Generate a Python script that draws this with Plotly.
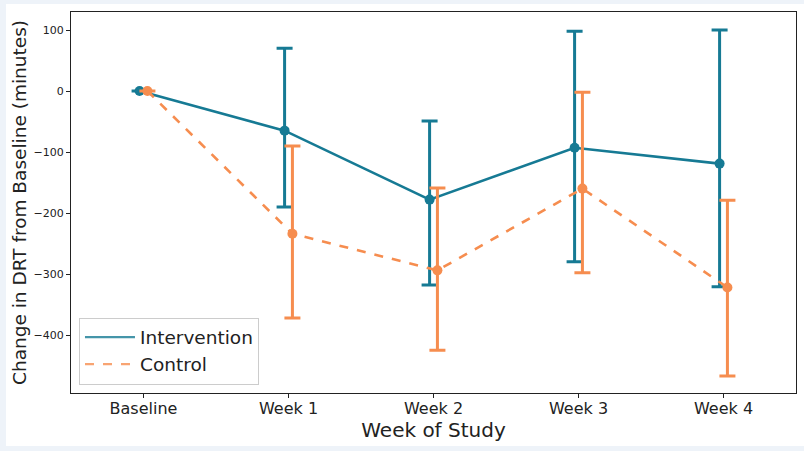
import plotly.graph_objects as go

categories = ["Baseline", "Week 1", "Week 2", "Week 3", "Week 4"]

int_mean = [0, -65, -178, -93, -119]
int_upper = [0, 70, -49, 98, 100]
int_lower = [0, -190, -318, -280, -321]

ctl_mean = [0, -234, -294, -160, -322]
ctl_upper = [0, -90, -159, -2, -179]
ctl_lower = [0, -372, -425, -298, -467]

TEAL = "#167a94"
ORANGE = "#f68d4f"
dodge = 0.027

def series(name, mean, upper, lower, color, dash, off):
    xs = [i + off for i in range(len(categories))]
    data = go.Scatter(
        x=xs, y=mean, name=name, mode="lines+markers", showlegend=False,
        line=dict(color=color, width=2.6, dash=dash),
        marker=dict(color=color, size=10),
        error_y=dict(type="data", symmetric=False,
                     array=[u - m for u, m in zip(upper, mean)],
                     arrayminus=[m - l for m, l in zip(mean, lower)],
                     color=color, thickness=3, width=8),
    )
    legend_only = go.Scatter(
        x=[None], y=[None], name=name, mode="lines",
        line=dict(color=color, width=2.2, dash=dash), opacity=0.8,
    )
    return [data, legend_only]

fig = go.Figure()
for tr in series("Intervention", int_mean, int_upper, int_lower, TEAL, "solid", -dodge):
    fig.add_trace(tr)
for tr in series("Control", ctl_mean, ctl_upper, ctl_lower, ORANGE, "dash", dodge):
    fig.add_trace(tr)

fig.update_layout(
    width=804, height=451,
    margin=dict(l=71, r=8, t=12, b=58),
    paper_bgcolor="#eef3f9", plot_bgcolor="white",
    font=dict(family="DejaVu Sans", color="#222"),
    shapes=[dict(type="rect", xref="paper", yref="paper",
                 x0=-65/725, x1=8/725 + 1, y0=-53/381, y1=1 + 8/381,
                 fillcolor="white", line=dict(width=0), layer="below")],
    legend=dict(x=0.011, y=0.022, xanchor="left", yanchor="bottom",
                bgcolor="white", bordercolor="#cccccc", borderwidth=1,
                font=dict(size=18.5, color="#222"), tracegroupgap=0,
                itemwidth=50),
    showlegend=True,
)
fig.update_xaxes(
    range=[-0.5, 4.5], tickmode="array",
    tickvals=list(range(len(categories))), ticktext=categories,
    tickfont=dict(size=16), ticks="outside", ticklen=4, tickcolor="#222",
    ticklabelstandoff=-3,
    showgrid=False, zeroline=False, showline=True, linecolor="#222", linewidth=1.2, mirror=True,
    title=dict(text="Week of Study", font=dict(size=20), standoff=0),
)
fig.update_yaxes(
    range=[-495, 129.5], tickvals=[100, 0, -100, -200, -300, -400],
    tickfont=dict(size=11), ticks="outside", ticklen=4, tickcolor="#222",
    showgrid=False, zeroline=False, showline=True, linecolor="#222", linewidth=1.2, mirror=True,
    title=dict(text="Change in DRT from Baseline (minutes)", font=dict(size=18.5), standoff=2),
)

fig.write_html("out.html")
